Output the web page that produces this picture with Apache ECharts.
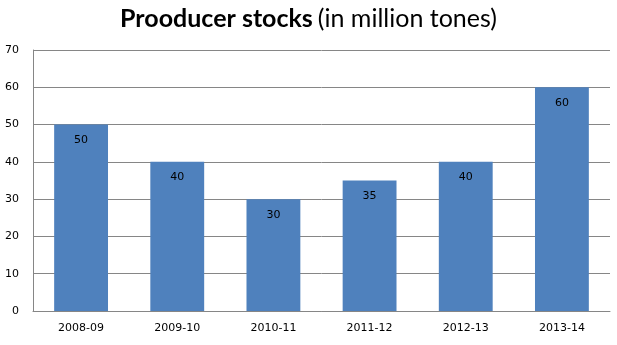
<!DOCTYPE html>
<html><head><meta charset="utf-8">
<script src="https://cdn.jsdelivr.net/npm/echarts@6/dist/echarts.min.js"></script>
<style>html,body{margin:0;padding:0;background:#fff}#c{width:617px;height:345px}</style>
</head><body><div id="c"></div>
<script>
const categories = ['2008-09','2009-10','2010-11','2011-12','2012-13','2013-14'];
const stocks = [50, 40, 30, 35, 40, 60];
const yTicks = {min: 0, max: 70, interval: 10};

const chart = echarts.init(document.getElementById('c'), null, {renderer: 'canvas'});
chart.setOption({
  animation: false,
  title: {
    text: '{b|Prooducer stocks} {n|(in million tones)}',
    left: 'center', top: 1,
    textStyle: {
      rich: {
        b: {fontFamily: 'Lato', fontWeight: 'bold', fontSize: 25, color: '#000'},
        n: {fontFamily: 'Lato', fontWeight: 'normal', fontSize: 25, color: '#000'}
      }
    }
  },
  grid: {left: 33, right: 7, top: 50, bottom: 34},
  xAxis: {
    type: 'category', data: categories,
    axisLine: {lineStyle: {color: '#868686'}},
    axisTick: {show: false},
    axisLabel: {fontFamily: 'DejaVu Sans', fontSize: 11, color: '#000', margin: 12}
  },
  yAxis: {
    type: 'value', min: yTicks.min, max: yTicks.max, interval: yTicks.interval,
    axisLine: {show: true, lineStyle: {color: '#868686'}},
    axisTick: {show: false},
    splitLine: {lineStyle: {color: '#868686'}},
    axisLabel: {fontFamily: 'DejaVu Sans', fontSize: 11, color: '#000', margin: 14}
  },
  series: [{
    type: 'bar', data: stocks, barWidth: '56%',
    itemStyle: {color: '#4F81BD'},
    label: {show: true, position: 'insideTop', distance: 10, fontFamily: 'DejaVu Sans', fontSize: 11, color: '#000'}
  }]
});
</script></body></html>
